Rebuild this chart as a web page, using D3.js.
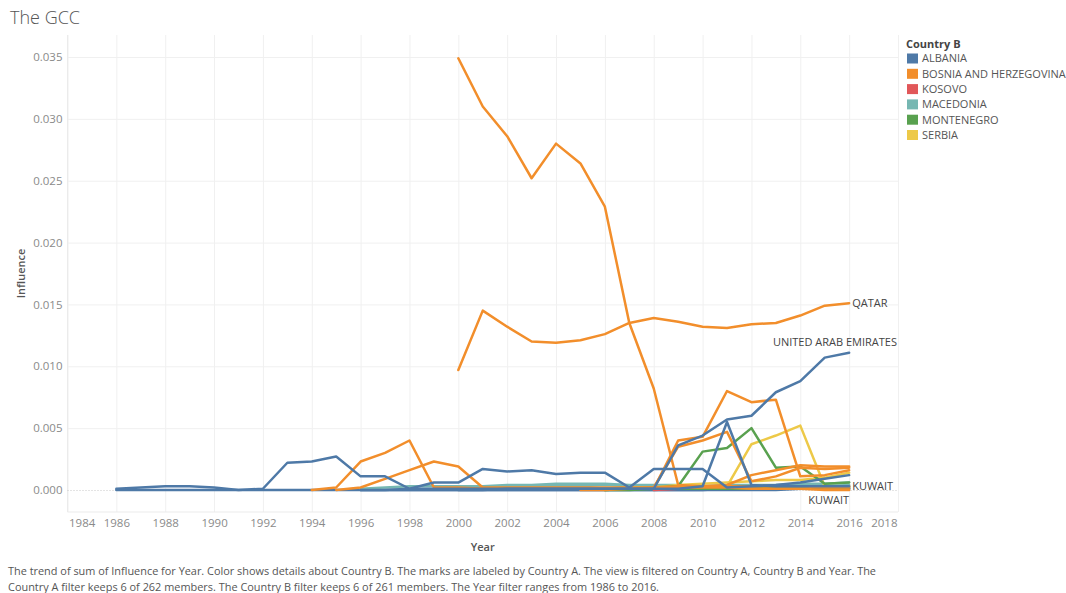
<!DOCTYPE html>
<html>
<head>
<meta charset="utf-8">
<script src="https://cdn.jsdelivr.net/npm/d3@7"></script>
<style>
  html, body { margin: 0; padding: 0; background: #fff; }
  svg { display: block; font-family: "Open Sans", "Noto Sans", sans-serif; }
</style>
</head>
<body>
<svg id="chart" width="1066" height="593"></svg>
<script>
// ---------------- DATA ----------------
const countriesB = ["ALBANIA", "BOSNIA AND HERZEGOVINA", "KOSOVO", "MACEDONIA", "MONTENEGRO", "SERBIA"];
const colorsB = ["#4e79a7", "#f28e2b", "#e15759", "#76b7b2", "#59a14f", "#edc948"];
const xTicks = [1984, 1986, 1988, 1990, 1992, 1994, 1996, 1998, 2000, 2002, 2004, 2006, 2008, 2010, 2012, 2014, 2016, 2018];
const yTicks = [0, 0.005, 0.010, 0.015, 0.020, 0.025, 0.030, 0.035];

// Albania (values start at the given start year, one per year)
const saudiAlbania = [0.0001,0.0002,0.0003,0.0003,0.0002,0.0000,0.0001,0.0022,0.0023,0.0027,0.0011,0.0011,0.0001,0.0006,0.0006,0.0017,0.0015,0.0016,0.0013,0.0014,0.0014,0.0002,0.0017,0.0017,0.0017,0.0002,0.0003,0.0004,0.0006,0.0009,0.0012];
const uaeAlbania = [0.0000,0.0000,0.0001,0.0001,0.0001,0.0001,0.0001,0.0001,0.0001,0.0001,0.0001,0.0001,0.0001,0.0036,0.0044,0.0057,0.0060,0.0079,0.0088,0.0107,0.0111];
const kuwaitAlbania = [0.0000,0.0000,0.0001,0.0001,0.0001,0.0001,0.0001,0.0001,0.0001,0.0001,0.0003,0.0055,0.0004,0.0003,0.0003,0.0003,0.0003];
const qatarAlbania = [0.0000,0.0000,0.0000,0.0000,0.0000,0.0000,0.0000,0.0000,0.0000,0.0000,0.0000,0.0000,0.0000,0.0000,0.0000,0.0000,0.0000,0.0000,0.0000,0.0000,0.0000,0.0000,0.0000,0.0000,0.0000,0.0001,0.0001,0.0001,0.0001,0.0001,0.0001];
const omanAlbania = [0.0000,0.0000,0.0000,0.0000,0.0000,0.0000,0.0000,0.0000,0.0000,0.0000,0.0000,0.0000,0.0000,0.0000,0.0000,0.0000,0.0000,0.0000,0.0001,0.0001,0.0001];
// Bosnia and Herzegovina
const saudiBosnia = [0.0349,0.0310,0.0286,0.0252,0.0280,0.0264,0.0229,0.0135,0.0082,0.0004,0.0003,0.0003,0.0003,0.0003,0.0003,0.0002,0.0002];
const qatarBosnia = [0.0097,0.0145,0.0132,0.0120,0.0119,0.0121,0.0126,0.0135,0.0139,0.0136,0.0132,0.0131,0.0134,0.0135,0.0141,0.0149,0.0151];
const kuwaitBosnia = [0.0000,0.0002,0.0023,0.0030,0.0040,0.0002,0.0002,0.0001,0.0001,0.0001,0.0001,0.0001,0.0001,0.0001,0.0001,0.0002,0.0002,0.0002,0.0001,0.0001,0.0001,0.0000,0.0000];
const omanBosnia = [0.0000,0.0002,0.0009,0.0016,0.0023,0.0019,0.0002,0.0002,0.0002,0.0002,0.0002,0.0002,0.0002,0.0002,0.0003,0.0003,0.0004,0.0012,0.0016,0.0020,0.0019,0.0019];
const uaeBosnia = [0.0001,0.0001,0.0001,0.0001,0.0001,0.0001,0.0001,0.0001,0.0001,0.0040,0.0043,0.0080,0.0071,0.0073,0.0011,0.0012,0.0016];
const bahrainBosnia = [0.0000,0.0000,0.0001,0.0002,0.0035,0.0040,0.0047,0.0007,0.0011,0.0018,0.0017,0.0018];
// Kosovo
const uaeKosovo = [0.0000,0.0001,0.0001,0.0001,0.0001,0.0002,0.0002,0.0002,0.0003];
// Macedonia
const saudiMacedonia = [0.0001,0.0002,0.0003,0.0003,0.0003,0.0003,0.0004,0.0004,0.0005,0.0005,0.0005,0.0004,0.0004,0.0004,0.0003,0.0004,0.0004,0.0004,0.0005,0.0005,0.0006];
const uaeMacedonia = [0.0002,0.0002,0.0003,0.0003,0.0003,0.0003,0.0004,0.0003,0.0003,0.0003,0.0003,0.0003,0.0003,0.0003,0.0003,0.0003,0.0004];
// Montenegro
const uaeMontenegro = [0.0000,0.0001,0.0002,0.0003,0.0031,0.0034,0.0050,0.0018,0.0019,0.0005,0.0006];
const saudiMontenegro = [0.0000,0.0000,0.0001,0.0001,0.0001,0.0001,0.0001,0.0002,0.0002,0.0002,0.0002];
// Serbia
const qatarSerbia = [0.0001,0.0002,0.0002,0.0003,0.0037,0.0044,0.0052,0.0003,0.0003];
const uaeSerbia = [0.0001,0.0002,0.0002,0.0004,0.0005,0.0006,0.0007,0.0008,0.0008,0.0010,0.0014];

const series = [
  {a: "QATAR", b: "ALBANIA", start: 1986, values: qatarAlbania},
  {a: "OMAN", b: "ALBANIA", start: 1996, values: omanAlbania},
  {a: "SAUDI ARABIA", b: "MACEDONIA", start: 1996, values: saudiMacedonia},
  {a: "UNITED ARAB EMIRATES", b: "MACEDONIA", start: 2000, values: uaeMacedonia},
  {a: "UNITED ARAB EMIRATES", b: "KOSOVO", start: 2008, values: uaeKosovo},
  {a: "QATAR", b: "SERBIA", start: 2008, values: qatarSerbia},
  {a: "UNITED ARAB EMIRATES", b: "SERBIA", start: 2006, values: uaeSerbia},
  {a: "SAUDI ARABIA", b: "MONTENEGRO", start: 2006, values: saudiMontenegro},
  {a: "UNITED ARAB EMIRATES", b: "MONTENEGRO", start: 2006, values: uaeMontenegro},
  {a: "SAUDI ARABIA", b: "BOSNIA AND HERZEGOVINA", start: 2000, values: saudiBosnia},
  {a: "QATAR", b: "BOSNIA AND HERZEGOVINA", start: 2000, values: qatarBosnia},
  {a: "KUWAIT", b: "BOSNIA AND HERZEGOVINA", start: 1994, values: kuwaitBosnia},
  {a: "OMAN", b: "BOSNIA AND HERZEGOVINA", start: 1995, values: omanBosnia},
  {a: "UNITED ARAB EMIRATES", b: "BOSNIA AND HERZEGOVINA", start: 2000, values: uaeBosnia},
  {a: "BAHRAIN", b: "BOSNIA AND HERZEGOVINA", start: 2005, values: bahrainBosnia},
  {a: "KUWAIT", b: "ALBANIA", start: 2000, values: kuwaitAlbania},
  {a: "SAUDI ARABIA", b: "ALBANIA", start: 1986, values: saudiAlbania},
  {a: "UNITED ARAB EMIRATES", b: "ALBANIA", start: 1996, values: uaeAlbania}
];

// end-of-line labels (which series get a Country A label)
const endLabels = [
  {a: "QATAR", b: "BOSNIA AND HERZEGOVINA", pos: "right"},
  {a: "UNITED ARAB EMIRATES", b: "ALBANIA", pos: "above"},
  {a: "KUWAIT", b: "ALBANIA", pos: "right"},
  {a: "KUWAIT", b: "BOSNIA AND HERZEGOVINA", pos: "below"}
];

const titleText = "The GCC";
const footerLines = [
  "The trend of sum of Influence for Year.  Color shows details about Country B.  The marks are labeled by Country A. The view is filtered on Country A, Country B and Year. The",
  "Country A filter keeps 6 of 262 members. The Country B filter keeps 6 of 261 members. The Year filter ranges from 1986 to 2016."
];

// ---------------- CHART ----------------
(function () {
const svg = d3.select("#chart");
const pLeft = 67.5, pRight = 898, pTop = 35, pBottom = 512;

const x = d3.scaleLinear().domain([1984, 2018]).range([pLeft, pRight]);
const y = d3.scaleLinear().domain([-0.00178, 0.03678]).range([pBottom, pTop]);
const color = d3.scaleOrdinal().domain(countriesB).range(colorsB);

// title
svg.append("text").attr("x", 10).attr("y", 24)
  .attr("font-size", 18).attr("font-weight", 300).attr("fill", "#555")
  .text(titleText);

// gridlines
const grid = svg.append("g");
grid.append("g").attr("transform", `translate(0,${pBottom})`)
  .call(d3.axisBottom(x).tickValues(xTicks).tickSize(-(pBottom - pTop)).tickFormat(""))
  .call(g => g.select(".domain").remove())
  .call(g => g.selectAll(".tick line").attr("stroke", "#f0f0f0").attr("stroke-width", 1));
grid.append("g").attr("transform", `translate(${pLeft},0)`)
  .call(d3.axisLeft(y).tickValues(yTicks.filter(d => d !== 0)).tickSize(-(pRight - pLeft)).tickFormat(""))
  .call(g => g.select(".domain").remove())
  .call(g => g.selectAll(".tick line").attr("stroke", "#f0f0f0").attr("stroke-width", 1));
svg.append("line").attr("x1", pLeft).attr("x2", pLeft).attr("y1", pTop).attr("y2", pBottom)
  .attr("stroke", "#ebebeb");
svg.append("line").attr("x1", pLeft).attr("x2", pRight).attr("y1", pBottom).attr("y2", pBottom)
  .attr("stroke", "#ebebeb");
// zero line (dotted)
const y0 = Math.round(y(0)) + 0.5;
svg.append("line").attr("x1", pLeft).attr("x2", pRight).attr("y1", y0).attr("y2", y0)
  .attr("stroke", "#c8c8c8").attr("stroke-dasharray", "1,2");

// y axis labels
const yAxis = svg.append("g").attr("transform", `translate(${pLeft},0)`)
  .call(d3.axisLeft(y).tickValues(yTicks).tickSize(0).tickPadding(5).tickFormat(d3.format(".3f")));
yAxis.select(".domain").remove();
yAxis.selectAll("text").attr("font-size", 11.5).attr("fill", "#8a8a8a")
  .attr("font-family", "'Open Sans', sans-serif");

// x axis labels
const xAxis = svg.append("g").attr("transform", `translate(0,${pBottom})`)
  .call(d3.axisBottom(x).tickValues(xTicks).tickSize(0).tickPadding(7).tickFormat(d3.format("d")));
xAxis.select(".domain").remove();
xAxis.selectAll("text").attr("font-size", 11.5).attr("fill", "#8a8a8a")
  .attr("font-family", "'Open Sans', sans-serif")
  .attr("text-anchor", (d, i) => i === 0 ? "start" : (i === xTicks.length - 1 ? "end" : "middle"))
  .attr("dx", (d, i) => i === 0 ? -(x(d) - pLeft - 1) : (i === xTicks.length - 1 ? (pRight - 1 - x(d)) : 0));

// axis titles
svg.append("text").attr("x", (pLeft + pRight) / 2).attr("y", 551)
  .attr("text-anchor", "middle").attr("font-size", 11).attr("font-weight", 600).attr("fill", "#555")
  .text("Year");
svg.append("text").attr("transform", `translate(25,${(pTop + pBottom) / 2}) rotate(-90)`)
  .attr("text-anchor", "middle").attr("font-size", 11).attr("font-weight", 600).attr("fill", "#555")
  .text("Influence");

// lines
const line = d3.line().x(d => x(d.year)).y(d => y(d.value));
const seriesData = series.map(s => ({
  a: s.a, b: s.b,
  points: s.values.map((v, i) => ({year: s.start + i, value: v}))
}));
svg.append("g").selectAll("path.series").data(seriesData).join("path")
  .attr("class", "series")
  .attr("d", d => line(d.points))
  .attr("fill", "none")
  .attr("stroke", d => color(d.b))
  .attr("stroke-width", 2.5)
  .attr("stroke-linejoin", "round")
  .attr("stroke-linecap", "round");

// end labels
endLabels.forEach(l => {
  const s = seriesData.find(d => d.a === l.a && d.b === l.b);
  const p = s.points[s.points.length - 1];
  const px = x(p.year), py = y(p.value);
  const t = svg.append("text").attr("font-size", 11).attr("fill", "#444").text(l.a);
  if (l.pos === "right") {
    t.attr("x", px + 3).attr("y", py).attr("dy", "0.35em").attr("text-anchor", "start");
  } else if (l.pos === "above") {
    t.attr("x", pRight - 1).attr("y", py - 11).attr("dy", "0.35em").attr("text-anchor", "end");
  } else {
    t.attr("x", px).attr("y", py + 10).attr("dy", "0.35em").attr("text-anchor", "end");
  }
});

// legend
const legend = svg.append("g").attr("transform", "translate(906,0)");
legend.append("text").attr("x", 0).attr("y", 44).attr("dy", "0.35em")
  .attr("font-size", 11).attr("font-weight", 700).attr("fill", "#444").text("Country B");
const items = legend.selectAll("g.item").data(countriesB).join("g")
  .attr("class", "item")
  .attr("transform", (d, i) => `translate(0,${58.5 + i * 15.3})`);
items.append("rect").attr("x", 1).attr("y", -5).attr("width", 11).attr("height", 10)
  .attr("fill", d => color(d));
items.append("text").attr("x", 16).attr("y", 0).attr("dy", "0.35em")
  .attr("font-size", 11).attr("fill", "#555").text(d => d);

// footer
const footerWidths = [868, 651];
footerLines.forEach((t, i) => {
  svg.append("text").attr("x", 8).attr("y", 575 + i * 16)
    .attr("font-size", 11).attr("fill", "#555")
    .attr("textLength", footerWidths[i]).attr("lengthAdjust", "spacingAndGlyphs")
    .text(t);
});
})();
</script>
</body>
</html>
